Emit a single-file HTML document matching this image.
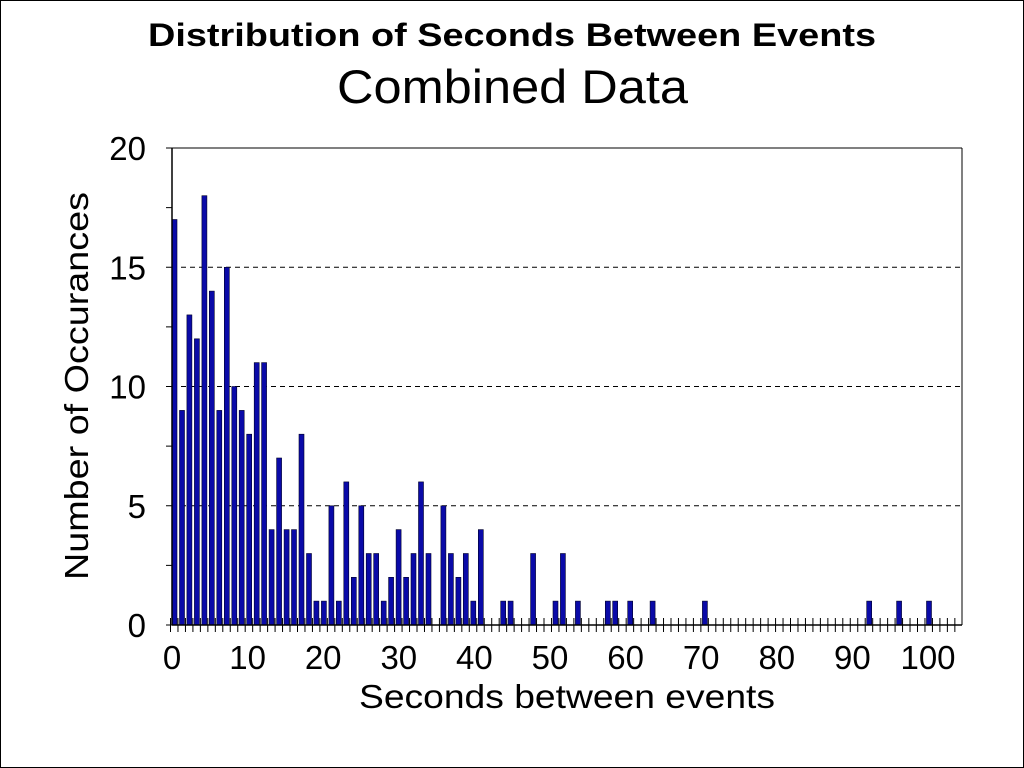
<!DOCTYPE html>
<html><head><style>
html,body{margin:0;padding:0;background:#fff}
svg{display:block}
text{font-family:"Liberation Sans",Arial,sans-serif;fill:#000}
</style></head><body>
<svg id="s" width="1024" height="768" xmlns="http://www.w3.org/2000/svg">
<rect x="0.5" y="0.5" width="1023" height="767" fill="#fff" stroke="#000"/>
<text x="148" y="46" font-size="32" font-weight="bold" textLength="728" lengthAdjust="spacingAndGlyphs">Distribution of Seconds Between Events</text>
<text x="337" y="103" font-size="47" textLength="351" lengthAdjust="spacingAndGlyphs">Combined Data</text>
<g id="g"></g>
<text x="359" y="708" font-size="33" textLength="416" lengthAdjust="spacingAndGlyphs">Seconds between events</text>
<text transform="translate(88,580) rotate(-90)" font-size="33" textLength="388" lengthAdjust="spacingAndGlyphs">Number of Occurances</text>
</svg>
<script>
var g=document.getElementById('g'),h='';
var L=172,R=962,T=148,B=625,u=(B-T)/20;
[5,10,15].forEach(function(v){var y=B-v*u;h+='<line x1="'+L+'" x2="'+R+'" y1="'+y+'" y2="'+y+'" stroke="#000" stroke-dasharray="5,4"/>';});
var d={0:17,1:9,2:13,3:12,4:18,5:14,6:9,7:15,8:10,9:9,10:8,11:11,12:11,13:4,14:7,15:4,16:4,17:8,18:3,19:1,20:1,21:5,22:1,23:6,24:2,25:5,26:3,27:3,28:1,29:2,30:4,31:2,32:3,33:6,34:3,36:5,37:3,38:2,39:3,40:1,41:4,44:1,45:1,48:3,51:1,52:3,54:1,58:1,59:1,61:1,64:1,71:1,93:1,97:1,101:1};
var sp=7.47;
for(var k in d){var x=174+sp*k-2,hh=d[k]*u;h+='<rect x="'+x.toFixed(1)+'" y="'+(B-hh).toFixed(1)+'" width="5" height="'+hh.toFixed(1)+'" fill="#0a0aa8" stroke="#000028" stroke-width="0.6"/>';}
h+='<line x1="'+L+'" y1="'+T+'" x2="'+R+'" y2="'+T+'" stroke="#000"/>';
h+='<line x1="'+R+'" y1="'+T+'" x2="'+R+'" y2="'+B+'" stroke="#000"/>';
h+='<line x1="'+L+'" y1="'+T+'" x2="'+L+'" y2="'+B+'" stroke="#000" stroke-width="1.5"/>';
h+='<line x1="'+L+'" y1="'+B+'" x2="'+R+'" y2="'+B+'" stroke="#000" stroke-width="1.5"/>';
for(var i=0;i<=106;i++){var x=170.5+sp*i;if(x>960)break;h+='<line x1="'+x+'" x2="'+x+'" y1="618" y2="632" stroke="#000"/>';}
for(var v=0;v<=20;v+=2.5){var y=B-v*u;h+='<line x1="166" x2="'+L+'" y1="'+y+'" y2="'+y+'" stroke="#000"/>';}
for(var v=0;v<=20;v+=5){h+='<text x="146" y="'+(B-v*u+12)+'" font-size="33" text-anchor="end">'+v+'</text>';}
for(var v=0;v<=100;v+=10){h+='<text x="'+(172+v*7.56)+'" y="669" font-size="33" text-anchor="middle">'+v+'</text>';}
g.innerHTML=h;
</script>
</body></html>
